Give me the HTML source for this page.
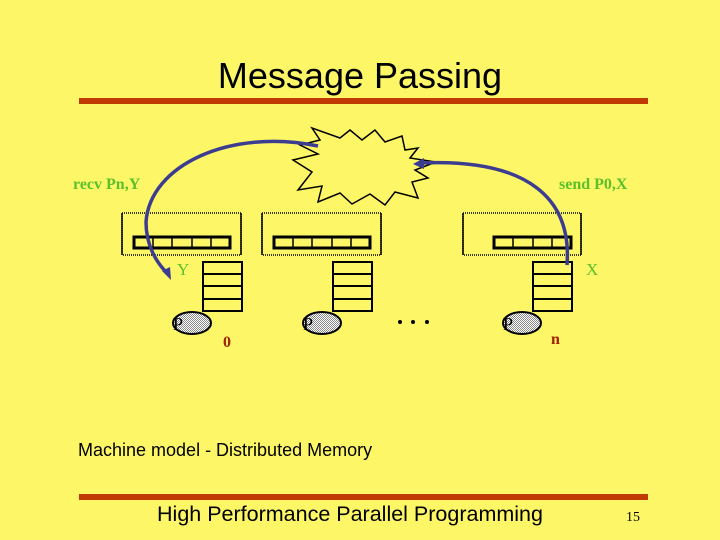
<!DOCTYPE html>
<html><head><style>
body{margin:0;width:720px;height:540px;background:#fdf767;overflow:hidden}
svg{display:block}
</style></head><body>
<svg width="720" height="540" viewBox="0 0 720 540" xmlns="http://www.w3.org/2000/svg">
<defs>
<pattern id="dot" width="2" height="2" patternUnits="userSpaceOnUse"><rect width="2" height="2" fill="#fff"/><rect width="1" height="1" fill="#888"/><rect x="1" y="1" width="1" height="1" fill="#888"/></pattern>
</defs>
<text x="360" y="88" font-family="Liberation Sans, sans-serif" font-size="36" text-anchor="middle">Message Passing</text>
<rect x="79" y="98" width="569" height="6" fill="#c03a00"/>
<rect x="79" y="494" width="569" height="6" fill="#c03a00"/>
<polygon points="300,145 320,140 312,128 340,138 350,130 362,140 375,130 385,142 402,136 405,150 418,148 410,158 436,162 415,170 428,178 412,182 418,198 395,192 385,205 370,194 352,204 340,193 318,202 322,186 298,190 312,172 293,160 318,154" fill="#fdf767" stroke="#000" stroke-width="1.5"/>
<g fill="none" stroke="#000" stroke-width="1.5">
<rect x="122" y="213" width="119" height="42" stroke-dasharray="1,1"/>
<line x1="122" y1="213" x2="122" y2="255"/><line x1="241" y1="213" x2="241" y2="255"/>
<rect x="262" y="213" width="119" height="42" stroke-dasharray="1,1"/>
<line x1="262" y1="213" x2="262" y2="255"/><line x1="381" y1="213" x2="381" y2="255"/>
<rect x="463" y="213" width="118" height="42" stroke-dasharray="1,1"/>
<line x1="463" y1="213" x2="463" y2="255"/><line x1="581" y1="213" x2="581" y2="255"/>
</g>
<g fill="none" stroke="#000" stroke-width="3">
<rect x="134" y="237" width="96" height="11"/>
<rect x="274" y="237" width="96" height="11"/>
<rect x="494" y="237" width="77" height="11"/>
</g>
<g stroke="#000" stroke-width="1.5">
<line x1="153" y1="237" x2="153" y2="248"/><line x1="172" y1="237" x2="172" y2="248"/><line x1="192" y1="237" x2="192" y2="248"/><line x1="211" y1="237" x2="211" y2="248"/>
<line x1="293" y1="237" x2="293" y2="248"/><line x1="312" y1="237" x2="312" y2="248"/><line x1="332" y1="237" x2="332" y2="248"/><line x1="351" y1="237" x2="351" y2="248"/>
<line x1="513" y1="237" x2="513" y2="248"/><line x1="533" y1="237" x2="533" y2="248"/><line x1="552" y1="237" x2="552" y2="248"/>
</g>
<g fill="none" stroke="#000" stroke-width="2">
<rect x="203" y="262" width="39" height="49"/><path d="M203 274H242M203 286H242M203 299H242"/>
<rect x="333" y="262" width="39" height="49"/><path d="M333 274H372M333 286H372M333 299H372"/>
<rect x="533" y="262" width="39" height="49"/><path d="M533 274H572M533 286H572M533 299H572"/>
</g>
<g stroke="#000" stroke-width="2" fill="url(#dot)">
<ellipse cx="192" cy="323" rx="19" ry="11"/>
<ellipse cx="322" cy="323" rx="19" ry="11"/>
<ellipse cx="522" cy="323" rx="19" ry="11"/>
</g>
<g font-family="Liberation Serif, serif" font-size="18">
<text x="173" y="330">P</text><text x="303" y="330">P</text><text x="503" y="330">P</text>
</g>
<g fill="#000"><circle cx="400" cy="322" r="2"/><circle cx="413" cy="322" r="2"/><circle cx="427" cy="322" r="2"/></g>
<g font-family="Liberation Serif, serif" font-size="16" fill="#5cc02a" font-weight="bold">
<text x="73" y="189">recv Pn,Y</text>
<text x="559" y="189">send P0,X</text>
</g>
<g font-family="Liberation Serif, serif" font-size="17" fill="#5cc02a">
<text x="177" y="275">Y</text>
<text x="586" y="275">X</text>
</g>
<g font-family="Liberation Serif, serif" font-size="16" fill="#a02000" font-weight="bold">
<text x="223" y="347">0</text>
<text x="551" y="344">n</text>
</g>
<g fill="none" stroke="#3c3c90" stroke-width="3.5">
<path d="M318,146 C230,128 150,165 146,222 C146,245 156,262 167,273"/>
<path d="M567,265 C572,200 530,158 420,163"/>
</g>
<polygon points="171,280 162,271 170,267" fill="#3c3c90"/>
<polygon points="413,164 424,158 424,169" fill="#3c3c90"/>
<text x="78" y="456" font-family="Liberation Sans, sans-serif" font-size="18">Machine model - Distributed Memory</text>
<text x="350" y="521" font-family="Liberation Sans, sans-serif" font-size="21.5" text-anchor="middle">High Performance Parallel Programming</text>
<text x="626" y="521" font-family="Liberation Serif, serif" font-size="14">15</text>
</svg>
</body></html>
